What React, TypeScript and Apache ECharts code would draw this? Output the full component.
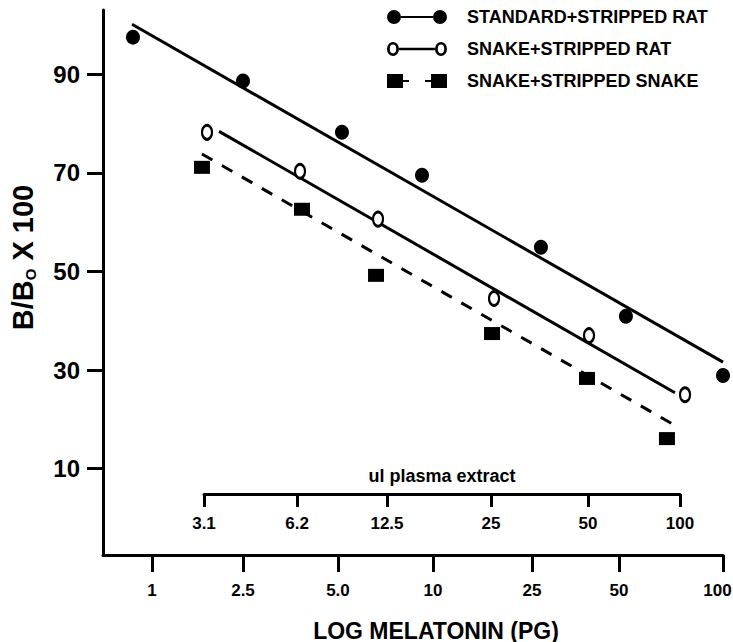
import React, { useEffect, useRef } from "react";
import * as echarts from "echarts";

// Axis positions are expressed in "tick units" of the main axis (1 -> 0, 100 -> 6)
const xTickPos = [0, 0.956, 1.954, 2.952, 3.993, 4.907, 6];
const xTickLabels = ["1", "2.5", "5.0", "10", "25", "50", "100"];
const plasmaTickPos = [0.546, 1.524, 2.469, 3.562, 4.581, 5.548];
const plasmaTickLabels = ["3.1", "6.2", "12.5", "25", "50", "100"];
const yTicks = [10, 30, 50, 70, 90];

const seriesNames = [
  "STANDARD+STRIPPED RAT",
  "SNAKE+STRIPPED RAT",
  "SNAKE+STRIPPED SNAKE",
];

// measured points [x position, B/Bo x 100]
const standardRat = [
  [-0.2, 97.5],
  [0.956, 88.6],
  [1.996, 78.2],
  [2.837, 69.5],
  [4.087, 54.9],
  [4.98, 40.9],
  [6.0, 28.9],
];
const snakeRat = [
  [0.578, 78.2],
  [1.555, 70.3],
  [2.375, 60.6],
  [3.594, 44.5],
  [4.592, 37.0],
  [5.601, 25.0],
];
const snakeSnake = [
  [0.525, 71.1],
  [1.576, 62.6],
  [2.354, 49.2],
  [3.573, 37.4],
  [4.571, 28.3],
  [5.411, 16.1],
];

// regression line end points
const standardRatFit = [
  [-0.21, 100.1],
  [6.0, 31.6],
];
const snakeRatFit = [
  [0.704, 78.4],
  [5.495, 25.4],
];
const snakeSnakeFit = [
  [0.525, 73.8],
  [5.474, 19.0],
];

const FONT = "'Liberation Sans', Arial, Helvetica, sans-serif";

const labelFor = (positions: number[], labels: string[], edgeLast = false) => (v: number) => {
  const i = positions.findIndex((p) => Math.abs(p - v) < 1e-3);
  if (i < 0) return "";
  if (edgeLast && i === positions.length - 1) return "{e|" + labels[i] + "}";
  return labels[i];
};

const iconFilled =
  "path://M0,7 A7,7 0 1,1 14,7 A7,7 0 1,1 0,7 Z M14,6 L46,6 L46,8 L14,8 Z M46,7 A7,7 0 1,1 60,7 A7,7 0 1,1 46,7 Z";
const iconOpen =
  "path://M0,7 A6,7 0 1,1 12,7 A6,7 0 1,1 0,7 Z M2.8,7 A3.2,4.4 0 1,0 9.2,7 A3.2,4.4 0 1,0 2.8,7 Z " +
  "M12,5.8 L48,5.8 L48,8.2 L12,8.2 Z " +
  "M48,7 A6,7 0 1,1 60,7 A6,7 0 1,1 48,7 Z M50.8,7 A3.2,4.4 0 1,0 57.2,7 A3.2,4.4 0 1,0 50.8,7 Z";
const iconSquare =
  "path://M0,0 L16,0 L16,14 L0,14 Z M16,6 L22,6 L22,8 L16,8 Z M38,6 L44,6 L44,8 L38,8 Z M44,0 L60,0 L60,14 L44,14 Z";

export default function App() {
  const ref = useRef<HTMLDivElement>(null);

  useEffect(() => {
    if (!ref.current) return;
    const chart = echarts.init(ref.current, null, { renderer: "svg" });
    const axisLine = { show: true, onZero: false, lineStyle: { color: "#000", width: 3 } };
    const legendItemStyle = { color: "#000", borderWidth: 0, opacity: 1 };
    const option: any = {
      animation: false,
      backgroundColor: "#fff",
      textStyle: { fontFamily: FONT },
      grid: [
        { left: 103, right: 10, top: 10, bottom: 87, outerBoundsMode: "none", containLabel: false },
        { left: 204, right: 53, top: 493, height: 1, outerBoundsMode: "none", containLabel: false },
      ],
      legend: {
        orient: "vertical",
        left: 387,
        top: 8,
        padding: 0,
        itemWidth: 62,
        itemHeight: 14,
        itemGap: 14,
        selectedMode: false,
        textStyle: {
          color: "#000",
          fontSize: 18,
          fontWeight: "bold",
          fontFamily: FONT,
          padding: [0, 0, 0, 14],
        },
        data: [
          { name: seriesNames[0], icon: iconFilled, itemStyle: legendItemStyle },
          { name: seriesNames[1], icon: iconOpen, itemStyle: legendItemStyle },
          { name: seriesNames[2], icon: iconSquare, itemStyle: legendItemStyle },
        ],
      },
      xAxis: [
        {
          type: "value",
          gridIndex: 0,
          min: -0.515,
          max: 6,
          axisLine,
          axisTick: { show: true, customValues: xTickPos, length: 17, lineStyle: { color: "#000", width: 3 } },
          axisLabel: {
            customValues: xTickPos,
            formatter: labelFor(xTickPos, xTickLabels, true),
            margin: 27,
            color: "#000",
            fontSize: 17,
            fontWeight: "bold",
            fontFamily: FONT,
            rich: {
              e: {
                color: "#000",
                fontSize: 17,
                fontWeight: "bold",
                fontFamily: FONT,
                padding: [0, 11, 0, 0],
              },
            },
          },
          splitLine: { show: false },
          name: "LOG MELATONIN (PG)",
          nameLocation: "middle",
          nameGap: 64,
          nameTextStyle: {
            color: "#000",
            fontSize: 23,
            fontWeight: "bold",
            fontFamily: FONT,
            padding: [0, 0, 0, 46],
          },
        },
        {
          type: "value",
          gridIndex: 1,
          position: "bottom",
          min: 0.546,
          max: 5.548,
          axisLine,
          axisTick: { show: true, customValues: plasmaTickPos, length: 13, lineStyle: { color: "#000", width: 3 } },
          axisLabel: {
            customValues: plasmaTickPos,
            formatter: labelFor(plasmaTickPos, plasmaTickLabels),
            margin: 21,
            color: "#000",
            fontSize: 17,
            fontWeight: "bold",
            fontFamily: FONT,
            showMinLabel: true,
            showMaxLabel: true,
          },
          splitLine: { show: false },
        },
        {
          type: "value",
          gridIndex: 1,
          position: "top",
          min: 0.546,
          max: 5.548,
          axisLine: { show: false },
          axisTick: { show: false },
          axisLabel: { show: false },
          splitLine: { show: false },
          name: "ul plasma extract",
          nameLocation: "middle",
          nameGap: 8,
          nameTextStyle: { color: "#000", fontSize: 18, fontWeight: "bold", fontFamily: FONT },
        },
      ],
      yAxis: [
        {
          type: "value",
          gridIndex: 0,
          min: -7.5,
          max: 103,
          axisLine,
          axisTick: { show: true, customValues: yTicks, length: 16, lineStyle: { color: "#000", width: 3 } },
          axisLabel: {
            customValues: yTicks,
            margin: 23,
            color: "#000",
            fontSize: 24,
            fontWeight: "bold",
            fontFamily: FONT,
          },
          splitLine: { show: false },
          name: "{a|B/B}{s|O}{a| X 100}",
          nameLocation: "middle",
          nameRotate: 90,
          nameGap: 65,
          nameTextStyle: {
            padding: [0, 0, 0, 50],
            rich: {
              a: { fontSize: 29, fontWeight: "bold", fontFamily: FONT, color: "#000", lineHeight: 30 },
              s: {
                fontSize: 15,
                fontWeight: "bold",
                fontFamily: FONT,
                color: "#000",
                lineHeight: 20,
                verticalAlign: "bottom",
              },
            },
          },
        },
        { type: "value", gridIndex: 1, show: false, min: 0, max: 1 },
      ],
      series: [
        {
          type: "line",
          data: standardRatFit,
          xAxisIndex: 0,
          yAxisIndex: 0,
          symbol: "none",
          lineStyle: { color: "#000", width: 3 },
          z: 2,
        },
        {
          type: "line",
          data: snakeRatFit,
          xAxisIndex: 0,
          yAxisIndex: 0,
          symbol: "none",
          lineStyle: { color: "#000", width: 3 },
          z: 2,
        },
        {
          type: "line",
          data: snakeSnakeFit,
          xAxisIndex: 0,
          yAxisIndex: 0,
          symbol: "none",
          lineStyle: { color: "#000", width: 3, type: [12, 11] },
          z: 2,
        },
        {
          type: "scatter",
          name: seriesNames[0],
          data: standardRat,
          xAxisIndex: 0,
          yAxisIndex: 0,
          symbol: "circle",
          symbolSize: [14, 15],
          itemStyle: { color: "#000", opacity: 1 },
          clip: false,
          z: 3,
        },
        {
          type: "scatter",
          name: seriesNames[1],
          data: snakeRat,
          xAxisIndex: 0,
          yAxisIndex: 0,
          symbol: "circle",
          symbolSize: [10, 14],
          itemStyle: { color: "#fff", borderColor: "#000", borderWidth: 2.5, opacity: 1 },
          clip: false,
          z: 3,
        },
        {
          type: "scatter",
          name: seriesNames[2],
          data: snakeSnake,
          xAxisIndex: 0,
          yAxisIndex: 0,
          symbol: "rect",
          symbolSize: [16, 13],
          itemStyle: { color: "#000", opacity: 1 },
          clip: false,
          z: 3,
        },
      ],
    };
    chart.setOption(option);
    return () => chart.dispose();
  }, []);

  return (
    <div
      ref={ref}
      style={{ position: "fixed", left: 0, top: 0, width: 733, height: 642, background: "#fff" }}
    />
  );
}
